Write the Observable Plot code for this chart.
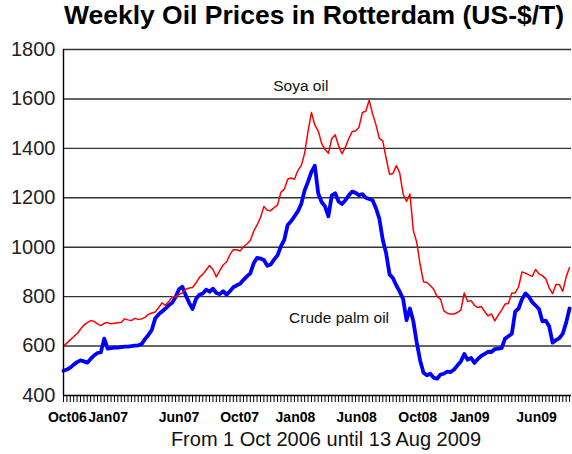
<!DOCTYPE html>
<html>
<head>
<meta charset="utf-8">
<script src="https://cdn.jsdelivr.net/npm/d3@7"></script>
<script src="https://cdn.jsdelivr.net/npm/@observablehq/plot@0.6"></script>
<style>
  html, body { margin: 0; padding: 0; background: #fff; }
  body { width: 572px; height: 454px; overflow: hidden; font-family: "Liberation Sans", Arial, sans-serif; }
  #title { height: 30px; line-height: 30px; padding-left: 56px; text-align: center; font-weight: bold; font-size: 26.5px; color: #000; white-space: nowrap; }
  #caption { height: 30px; line-height: 30px; padding-left: 80px; text-align: center; font-size: 20px; color: #111; white-space: nowrap; }
  svg { display: block; overflow: visible; }
</style>
</head>
<body>
<div id="title">Weekly Oil Prices in Rotterdam (US-$/T)</div>
<div id="chart"></div>
<div id="caption">From 1 Oct 2006 until 13 Aug 2009</div>
<script>
// Weekly series, first week starting 1 Oct 2006
const startDate = "2006-10-01";
const endDate = "2009-08-13";

const soya = [
  600, 612, 625, 638, 650, 668, 685, 695, 703, 700,
  690, 683, 692, 695, 690, 692, 694, 696, 710, 706,
  703, 712, 708, 710, 716, 728, 734, 738, 755, 775,
  765, 780, 800, 800, 808, 815, 830, 835, 837, 855,
  878, 890, 908, 926, 910, 880, 905, 928, 940, 970,
  990, 990, 985, 1002, 1013, 1027, 1065, 1090, 1120, 1165,
  1150, 1148, 1160, 1170, 1222, 1235, 1275, 1280, 1275, 1310,
  1330, 1380, 1470, 1545, 1495, 1470, 1420, 1395, 1380, 1440,
  1455, 1410, 1378, 1405, 1440, 1468, 1470, 1485, 1545, 1550,
  1595, 1540, 1495, 1440, 1430, 1360, 1295, 1298, 1330, 1300,
  1215, 1185, 1215, 1068, 1020, 930, 860, 857, 845, 830,
  800, 790, 742, 733, 730, 730, 736, 745, 815, 780,
  784, 765, 756, 760, 740, 722, 730, 702, 725, 745,
  770, 772, 815, 815, 840, 900, 895, 888, 882, 910,
  892, 885, 872, 835, 812, 849, 849, 821, 880, 918
];

const palm = [
  500, 505, 513, 525, 535, 542, 538, 533, 548, 562,
  572, 575, 630, 590, 592, 594, 594, 596, 598, 598,
  600, 602, 603, 608, 628, 645, 665, 712, 728, 740,
  752, 765, 775, 798, 830, 840, 805, 775, 750, 790,
  808, 813, 828, 820, 832, 815, 810, 822, 808, 822,
  838, 846, 852, 868, 882, 894, 935, 957, 954, 948,
  925, 930, 950, 967, 1003, 1030, 1090, 1105, 1125, 1145,
  1175, 1230, 1265, 1305, 1330, 1217, 1183, 1165, 1125, 1210,
  1218, 1185, 1175, 1190, 1210, 1225, 1220, 1210, 1215, 1200,
  1195, 1190, 1158, 1115, 1030, 975, 890, 875, 845, 820,
  790, 705, 752, 700, 615, 542, 492, 482, 488, 472,
  468, 485, 488, 497, 495, 505, 522, 538, 568, 545,
  552, 532, 548, 560, 568, 577, 576, 588, 590, 592,
  630, 640, 650, 740, 752, 790, 813, 800, 778, 764,
  750, 700, 703, 680, 614, 624, 632, 650, 695, 752
];

const yTicks = [400, 600, 800, 1000, 1200, 1400, 1600, 1800];
const xLabelText = ["Oct06", "Jan07", "Jun07", "Oct07", "Jan08", "Jun08", "Oct08", "Jan09", "Jun09"];
const xLabelDates = ["2006-10-09", "2007-01-01", "2007-05-27", "2007-09-29", "2008-01-22", "2008-05-27", "2008-09-30", "2009-01-15", "2009-06-02"];

const seriesNames = ["Soya oil", "Crude palm oil"];
const seriesLabelDates = ["2008-02-02", "2008-04-21"];
const seriesLabelValues = [1654, 712];

const t0 = new Date(startDate);
const weeks = soya.map((_, i) => d3.utcDay.offset(t0, 7 * i));
const rows = weeks.map((d, i) => ({date: d, soya: soya[i], palm: palm[i]}));
const xLabels = xLabelText.map((t, i) => ({label: t, date: new Date(xLabelDates[i])}));
const seriesLabels = seriesNames.map((t, i) => ({label: t, date: new Date(seriesLabelDates[i]), value: seriesLabelValues[i]}));
const gridValues = yTicks.filter(v => v > 400);

const chart = Plot.plot({
  width: 572,
  height: 394,
  marginTop: 19,
  marginBottom: 29,
  marginLeft: 63,
  marginRight: 1,
  style: {fontFamily: "'Liberation Sans', Arial, sans-serif", background: "#fff", overflow: "visible"},
  x: {type: "utc", domain: [new Date(startDate), new Date(endDate)], axis: null},
  y: {domain: [400, 1800], axis: null},
  marks: [
    Plot.ruleY(gridValues, {stroke: "#333", strokeWidth: 1.4}),
    Plot.axisY(yTicks, {tickSize: 0, tickPadding: 8, fontSize: 20, fill: "#222", label: null, tickFormat: d => String(d)}),
    Plot.axisX(weeks, {tickSize: 7, stroke: "#000", tickFormat: () => "", label: null}),
    Plot.text(xLabels, {x: "date", text: "label", frameAnchor: "bottom", dy: 22, lineAnchor: "middle", fontWeight: "bold", fontSize: 14, fill: "#000"}),
    Plot.lineY(rows, {x: "date", y: "palm", stroke: "#0000ff", strokeWidth: 3.8, strokeLinejoin: "round"}),
    Plot.lineY(rows, {x: "date", y: "soya", stroke: "#ff0000", strokeWidth: 1.5, strokeLinejoin: "round"}),
    Plot.ruleY([400], {stroke: "#000", strokeWidth: 1.4}),
    Plot.ruleX([new Date(startDate)], {y1: 400, y2: 1800, stroke: "#000", strokeWidth: 1.4}),
    Plot.text(seriesLabels, {x: "date", y: "value", text: "label", fontSize: 15.5, fill: "#111"})
  ]
});
document.getElementById("chart").appendChild(chart);
</script>
</body>
</html>
